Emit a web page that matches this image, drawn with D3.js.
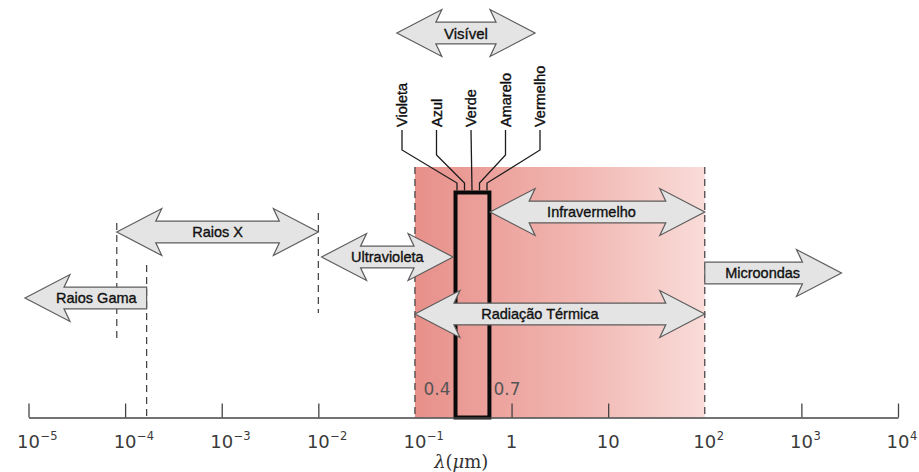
<!DOCTYPE html>
<html>
<head>
  <meta charset="utf-8">
  <script src="https://d3js.org/d3.v7.min.js"></script>
  <style>
    body { margin: 0; background: #fff; }
    .band-label { font-family: "Liberation Sans", Arial, sans-serif; font-size: 14.5px; fill: #111; stroke: #111; stroke-width: 0.35px; }
    .colour-label { font-family: "Liberation Sans", Arial, sans-serif; font-size: 14.5px; fill: #0d0d0d; stroke: #0d0d0d; stroke-width: 0.35px; }
    .tick-label { font-family: "DejaVu Sans", sans-serif; fill: #3a3a3a; }
    .limit-label { font-family: "DejaVu Sans", sans-serif; font-size: 17px; fill: #555; }
    .axis-title { font-family: "DejaVu Serif", serif; font-size: 18px; fill: #333; }
  </style>
</head>
<body>
<div id="chartContainer"></div>
<script>
// all wavelengths in micrometres
var tickValues = [1e-5, 1e-4, 1e-3, 1e-2, 1e-1, 1, 10, 1e2, 1e3, 1e4];
var tickExponents = [-5, -4, -3, -2, -1, 0, 1, 2, 3, 4];

// spectral bands (the original drawing is not quite to scale, values read off it)
var bandNames = ["Raios Gama", "Raios X", "Ultravioleta", "Visível", "Infravermelho", "Radiação Térmica", "Microondas"];
var bandFrom  = [9.2e-6, 8.2e-5, 0.0108, 0.065, 0.6, 0.1, 100];
var bandTo    = [1.67e-4, 0.01, 0.248, 1.75, 100, 100, 2600];
var bandHeads = ["left", "both", "both", "both", "both", "both", "right"];

var colourNames = ["Violeta", "Azul", "Verde", "Amarelo", "Vermelho"];
var visibleLimits = ["0.4", "0.7"];     // printed limits
var visibleBox = [0.263, 0.59];         // where the drawing puts them
var thermalZone = [0.1, 100];
var boundaryLines = [8.2e-5, 1.67e-4, 0.01, 0.1, 100];

var W = 919, H = 472, axisY = 417.5;

var svg = d3.select("#chartContainer").append("svg")
    .attr("width", W).attr("height", H);

var x = d3.scaleLog().domain([1e-5, 1e4]).range([28.5, 898]);

/* red gradient for the thermal radiation zone */
var defs = svg.append("defs");
var grad = defs.append("linearGradient").attr("id", "thermal")
    .attr("x1", "0%").attr("x2", "100%").attr("y1", "0%").attr("y2", "0%");
grad.append("stop").attr("offset", "0%").attr("stop-color", "#e8908a");
grad.append("stop").attr("offset", "55%").attr("stop-color", "#f1b5b0");
grad.append("stop").attr("offset", "100%").attr("stop-color", "#f9dcd9");

svg.append("rect")
    .attr("x", x(thermalZone[0]))
    .attr("y", 167)
    .attr("width", x(thermalZone[1]) - x(thermalZone[0]))
    .attr("height", axisY - 167)
    .attr("fill", "url(#thermal)");

/* dashed boundary lines, vertical extent is layout only */
var dashTop = [223, 265, 213, 167, 167];
var dashBottom = [343, axisY, 313, axisY, axisY];
svg.selectAll(".boundary").data(boundaryLines).enter().append("line")
    .attr("class", "boundary")
    .attr("x1", d => x(d)).attr("x2", d => x(d))
    .attr("y1", (d, i) => dashTop[i]).attr("y2", (d, i) => dashBottom[i])
    .attr("stroke", "#3c3c3c").attr("stroke-width", 1.2)
    .attr("stroke-dasharray", "7,5");

/* visible box */
var boxTop = 192.5;
svg.append("rect")
    .attr("x", x(visibleBox[0]))
    .attr("y", boxTop)
    .attr("width", x(visibleBox[1]) - x(visibleBox[0]))
    .attr("height", axisY - boxTop)
    .attr("fill", "none")
    .attr("stroke", "#0a0a0a")
    .attr("stroke-width", 4);

svg.append("text").attr("class", "limit-label")
    .attr("x", x(visibleBox[0]) - 5).attr("y", 395)
    .attr("text-anchor", "end").text(visibleLimits[0]);
svg.append("text").attr("class", "limit-label")
    .attr("x", x(visibleBox[1]) + 4).attr("y", 395)
    .attr("text-anchor", "start").text(visibleLimits[1]);

/* colour names with leader lines down to the box */
var labelX = d3.scalePoint().domain(colourNames).range([402, 540]);
var footX = d3.scalePoint().domain(colourNames).range([457, 487]);
var mid = (colourNames.length - 1) / 2;

svg.selectAll(".leader").data(colourNames).enter().append("path")
    .attr("class", "leader")
    .attr("d", function(d, i) {
      var bend = 150 + 5 * (mid - Math.abs(i - mid));
      if (i === mid) return d3.line()([[labelX(d), 130], [footX(d), boxTop - 2]]);
      return d3.line()([[labelX(d), 130], [labelX(d), bend], [footX(d), 183], [footX(d), boxTop - 2]]);
    })
    .attr("fill", "none").attr("stroke", "#1c1c1c").attr("stroke-width", 1.3);

svg.selectAll(".colour-label").data(colourNames).enter().append("text")
    .attr("class", "colour-label")
    .attr("transform", d => "translate(" + labelX(d) + ",127) rotate(-90)")
    .attr("dominant-baseline", "central")
    .text(d => d);

/* band arrows */
var bandRowY = [298, 232, 257, 33, 212, 314, 273];
var labelShift = [0, 0, 0, 0, -6, -20, 0];

function arrowPath(x0, x1, y, heads) {
  var h = 10.8, Hh = 23.5, Lo = 45, Li = 39;
  var left = heads !== "right", right = heads !== "left";
  var p = [];
  if (left) p.push([x0, y], [x0 + Lo, y - Hh], [x0 + Li, y - h]);
  else p.push([x0, y + h], [x0, y - h]);
  if (right) p.push([x1 - Li, y - h], [x1 - Lo, y - Hh], [x1, y], [x1 - Lo, y + Hh], [x1 - Li, y + h]);
  else p.push([x1, y - h], [x1, y + h]);
  if (left) p.push([x0 + Li, y + h], [x0 + Lo, y + Hh]);
  return d3.line()(p) + "Z";
}

var bands = svg.selectAll(".band").data(bandNames).enter().append("g").attr("class", "band");

bands.append("path")
    .attr("d", (d, i) => arrowPath(x(bandFrom[i]), x(bandTo[i]), bandRowY[i], bandHeads[i]))
    .attr("fill", "#e4e4e4")
    .attr("stroke", "#5c5c5c")
    .attr("stroke-width", 1.2)
    .attr("stroke-linejoin", "miter");

bands.append("text")
    .attr("class", "band-label")
    .attr("x", function(d, i) {
      var a = x(bandFrom[i]), b = x(bandTo[i]), c = (a + b) / 2;
      if (bandHeads[i] === "left") c = (c + (a + 42 + b) / 2) / 2;
      if (bandHeads[i] === "right") c = (c + (a + b - 42) / 2) / 2;
      return c + labelShift[i];
    })
    .attr("y", (d, i) => bandRowY[i])
    .attr("text-anchor", "middle")
    .attr("dominant-baseline", "central")
    .style("font-size", (d, i) => i === 3 ? "15px" : null)
    .text(d => d);

/* log axis, ticks pointing up */
var axis = d3.axisBottom(x).tickValues(tickValues).tickSizeInner(-14).tickSizeOuter(0).tickFormat("");
var gAxis = svg.append("g").attr("transform", "translate(0," + axisY + ")").call(axis);
gAxis.select(".domain").attr("stroke", "#444").attr("stroke-width", 1.3);
gAxis.selectAll(".tick line").attr("stroke", "#444").attr("stroke-width", 1.3);
// the boundary dashes replace the ticks at 10^-1 and 10^2
gAxis.selectAll(".tick").filter(d => thermalZone.indexOf(d) >= 0).select("line").remove();

var labels = svg.selectAll(".tick-label").data(tickValues).enter().append("g")
    .attr("class", "tick-label")
    .attr("transform", d => "translate(" + x(d) + ",447.5)");
labels.append("text")
    .attr("text-anchor", "middle")
    .style("font-size", "18px")
    .text((d, i) => tickExponents[i] === 0 ? "1" : "10");
labels.filter((d, i) => tickExponents[i] !== 0 && tickExponents[i] !== 1)
    .append("text")
    .attr("x", 12)
    .attr("y", -8)
    .style("font-size", "11.5px")
    .text(d => String(Math.round(Math.log10(d))).replace("-", "\u2212"));

var title = svg.append("text").attr("class", "axis-title")
    .attr("x", (x(1e-5) + x(1e4)) / 2 - 2).attr("y", 468)
    .attr("text-anchor", "middle");
title.append("tspan").style("font-style", "italic").text("λ");
title.append("tspan").text("(");
title.append("tspan").style("font-style", "italic").text("μ");
title.append("tspan").text("m)");
</script>
</body>
</html>
